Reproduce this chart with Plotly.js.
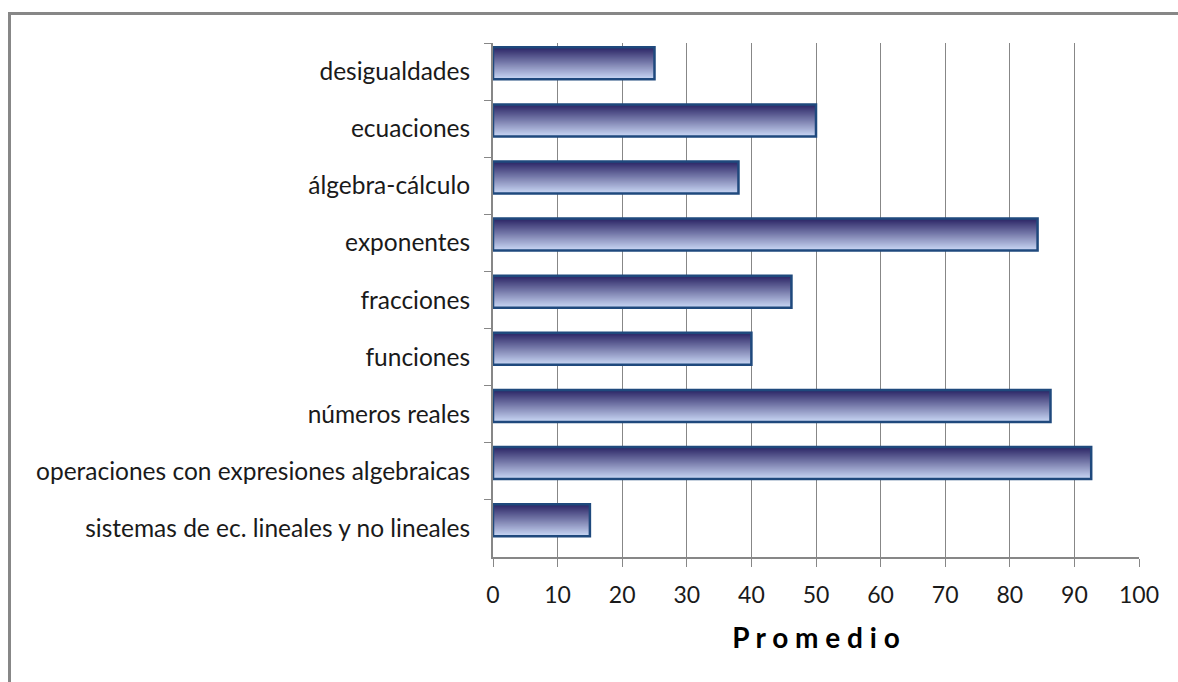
<!DOCTYPE html>
<html>
<head>
<meta charset="utf-8">
<script src="https://cdn.plot.ly/plotly-3.0.1.min.js"></script>
<style>
html,body{margin:0;padding:0;background:#fff;}
#wrap{position:relative;width:1178px;height:682px;}
#chart{width:1178px;height:682px;}
#frame{position:absolute;left:8px;top:12px;width:1200px;height:700px;border-left:3px solid #878787;border-top:3px solid #878787;pointer-events:none;}
</style>
</head>
<body>
<div id="wrap"><div id="chart"></div><div id="frame"></div></div>
<script>
// Data
const categories = [
  "desigualdades",
  "ecuaciones",
  "álgebra-cálculo",
  "exponentes",
  "fracciones",
  "funciones",
  "números reales",
  "operaciones con expresiones algebraicas",
  "sistemas de ec. lineales y no lineales"
];
const promedio = [25, 50, 38, 84.3, 46.2, 40, 86.3, 92.6, 15];
const xTicks = [0, 10, 20, 30, 40, 50, 60, 70, 80, 90, 100];
const xTitle = "P r o m e d i o";

// Styling
const BAR_WIDTH = 0.56;
const BAR_OFFSET = -0.425;
const STRIPS = 32;
const topColor = [44, 38, 102];
const bottomColor = [200, 214, 244];
const lineColor = "#1f497d";

function mix(t){
  const c = topColor.map((v,i)=>Math.round(v + (bottomColor[i]-v)*t));
  return `rgb(${c[0]},${c[1]},${c[2]})`;
}

const traces = [];
for (let i = 0; i < STRIPS; i++) {
  const t = i / (STRIPS - 1);
  const start = BAR_OFFSET + i * BAR_WIDTH / STRIPS;
  traces.push({
    type: "bar",
    orientation: "h",
    x: promedio,
    y: categories,
    width: categories.map(()=>BAR_WIDTH - i * BAR_WIDTH / STRIPS),
    offset: categories.map(()=>start),
    marker: {color: mix(t), line: {width: 0}},
    hoverinfo: "skip",
    showlegend: false
  });
}
traces.push({
  type: "bar",
  orientation: "h",
  x: promedio,
  y: categories,
  width: categories.map(()=>BAR_WIDTH),
  offset: categories.map(()=>BAR_OFFSET),
  marker: {color: "rgba(0,0,0,0)", line: {width: 2.5, color: lineColor}},
  showlegend: false
});

const font = "Lato, 'Open Sans', sans-serif";
const layout = {
  width: 1178,
  height: 682,
  margin: {l: 493, r: 39, t: 43, b: 125},
  paper_bgcolor: "#ffffff",
  plot_bgcolor: "#ffffff",
  barmode: "overlay",
  showlegend: false,
  font: {family: font, color: "#1a1a1a", size: 20},
  xaxis: {
    range: [0, 100],
    tickvals: xTicks,
    ticktext: xTicks.map(String),
    showgrid: true,
    gridcolor: "#878787",
    gridwidth: 1,
    zeroline: false,
    showline: true,
    linecolor: "#878787",
    linewidth: 2,
    ticks: "outside",
    ticklen: 8,
    tickwidth: 1,
    tickcolor: "#878787",
    ticklabelstandoff: 8,
    tickfont: {family: font, size: 23, color: "#1a1a1a"},
    title: {text: xTitle, font: {family: font, size: 28, color: "#000", weight: "bold"}, standoff: 22},
    fixedrange: true
  },
  yaxis: {
    type: "category",
    categoryorder: "array",
    categoryarray: categories,
    autorange: "reversed",
    showgrid: false,
    zeroline: false,
    showline: true,
    linecolor: "#878787",
    linewidth: 2,
    ticks: "outside",
    tickson: "boundaries",
    ticklen: 7,
    tickwidth: 1,
    tickcolor: "#878787",
    ticklabelstandoff: 16,
    tickfont: {family: font, size: 24.5, color: "#1a1a1a"},
    fixedrange: true
  }
};

Plotly.newPlot("chart", traces, layout, {staticPlot: true, displayModeBar: false});
</script>
</body>
</html>
